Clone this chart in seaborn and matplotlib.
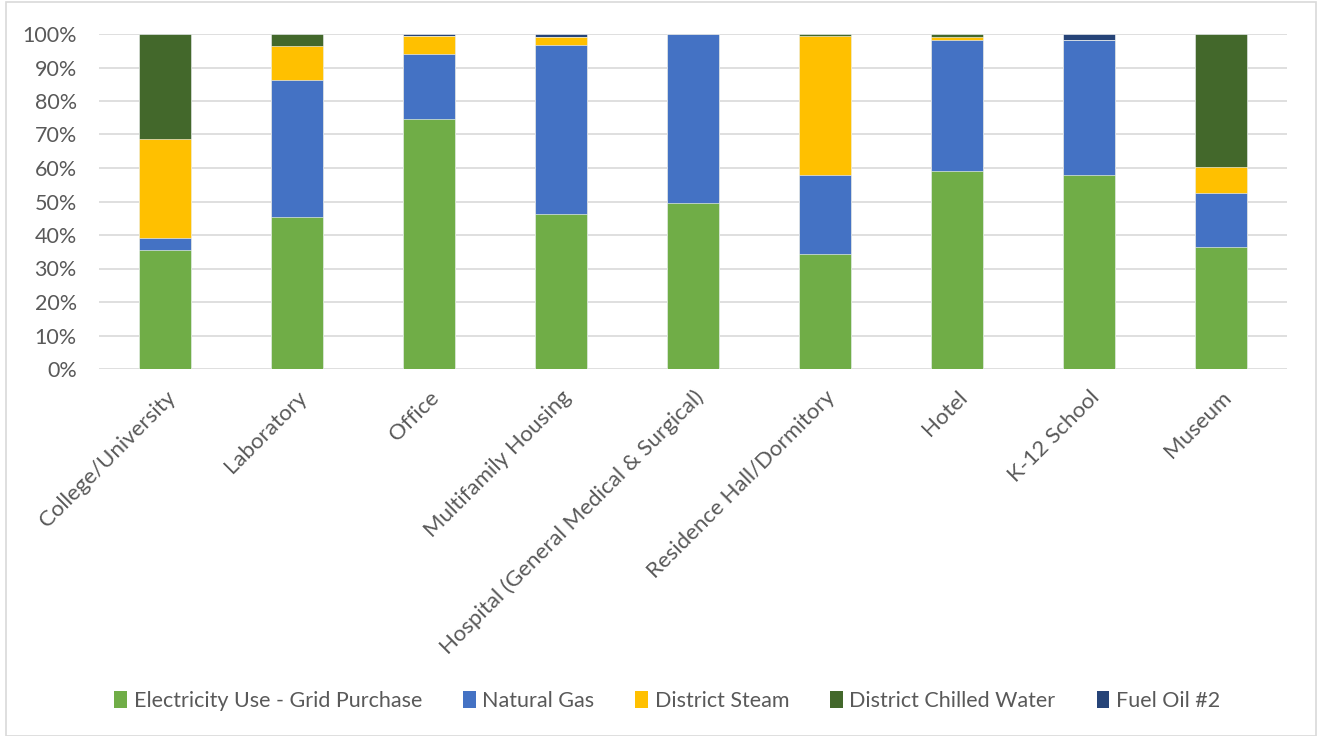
import numpy as np
import pandas as pd
import matplotlib
matplotlib.use("Agg")
import matplotlib.pyplot as plt
from matplotlib.patches import Patch, Rectangle
from matplotlib.ticker import PercentFormatter
import seaborn as sns

categories = ["College/University", "Laboratory", "Office", "Multifamily Housing",
              "Hospital (General Medical & Surgical)", "Residence Hall/Dormitory",
              "Hotel", "K-12 School", "Museum"]

electricity = [35.6, 45.3, 74.5, 46.4, 49.5, 34.4, 59.0, 58.0, 36.3]
natural_gas = [3.4, 41.0, 19.5, 50.4, 50.5, 23.4, 39.2, 40.1, 16.2]
district_steam = [29.7, 10.1, 5.5, 2.3, 0.0, 41.7, 0.8, 0.0, 7.7]
chilled_water = [31.3, 3.6, 0.0, 0.0, 0.0, 0.5, 1.0, 0.0, 39.8]
fuel_oil = [0.0, 0.0, 0.5, 0.9, 0.0, 0.0, 0.0, 1.9, 0.0]

series_names = ["Electricity Use - Grid Purchase", "Natural Gas", "District Steam",
                "District Chilled Water", "Fuel Oil #2"]
colors = ["#70AD47", "#4472C4", "#FFC000", "#43682B", "#264478"]

df = pd.DataFrame({
    "category": categories,
    series_names[0]: electricity,
    series_names[1]: natural_gas,
    series_names[2]: district_steam,
    series_names[3]: chilled_water,
    series_names[4]: fuel_oil,
})
cum = df[series_names].cumsum(axis=1)

sns.set_theme(style="white")
plt.rcParams["font.family"] = ["Lato", "DejaVu Sans"]
text_color = "#595959"
fs = 15.5

fig = plt.figure(figsize=(13.29, 7.36), dpi=100)
ax = fig.add_axes([99 / 1329, 1 - 369 / 736, (1287 - 99) / 1329, (369 - 34) / 736])

# stacked bars: draw cumulative totals from top series down
for name, color in reversed(list(zip(series_names, colors))):
    sns.barplot(x=df["category"], y=cum[name] / 100, color=color, saturation=1,
                width=0.4, edgecolor="white", linewidth=0.4, ax=ax, zorder=2)

ax.set_ylim(0, 1)
ax.set_xlim(-0.5, len(categories) - 0.5)
ax.set_yticks(np.arange(0, 1.01, 0.1))
ax.yaxis.set_major_formatter(PercentFormatter(1.0, decimals=0))
ax.grid(axis="y", color="#D9D9D9", linewidth=1.2, zorder=0)
ax.set_axisbelow(True)
for s in ["top", "right", "left", "bottom"]:
    ax.spines[s].set_visible(False)
ax.set_xlabel("")
ax.set_ylabel("")
ax.tick_params(axis="both", length=0, labelsize=fs, colors=text_color)
ax.tick_params(axis="y", pad=16)
ax.tick_params(axis="x", pad=13, labelsize=16)
ax.set_xticks(range(len(categories)))
ax.set_xticklabels(categories, rotation=45, ha="right", rotation_mode="anchor",
                   color=text_color)

handles = [Patch(facecolor=c, edgecolor="none") for c in colors]
fig.legend(handles, series_names, loc="center", bbox_to_anchor=(0.502, 1 - 701 / 736),
           ncol=5, frameon=False, fontsize=fs, labelcolor=text_color,
           handlelength=0.6, handleheight=0.8, handletextpad=0.3, columnspacing=1.9)

fig.patches.append(Rectangle((6 / 1329, 0.5 / 736), (1316 - 6) / 1329, 734 / 736,
                             transform=fig.transFigure, fill=False,
                             edgecolor="#D9D9D9", linewidth=1.2))

fig.savefig("out.png", dpi=100, facecolor="white")
